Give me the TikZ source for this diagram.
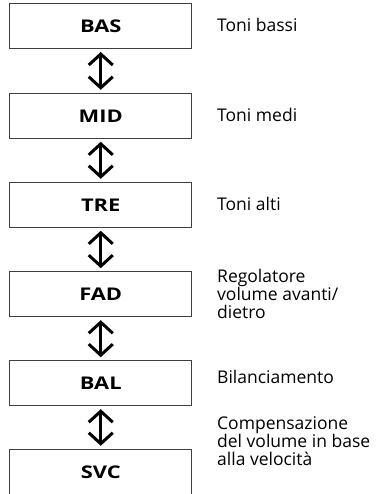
\documentclass[tikz,border=0pt]{standalone}
\usepackage{fontspec}
\setmainfont{Open Sans}
\newfontfamily\unitfont[FakeStretch=1.25]{Open Sans Bold}
\usetikzlibrary{arrows.meta}
\begin{document}
\begin{tikzpicture}[x=1pt, y=-1pt,
    unitbox/.style={draw=black!75, line width=1pt, minimum width=182pt, minimum height=45pt, inner sep=0pt, font=\unitfont\fontsize{17.5}{18}\selectfont},
    note/.style={anchor=base west, align=left, inner sep=0pt, font=\fontsize{17.5}{18}\selectfont},
    updown/.style={{Straight Barb[length=11pt,width=24pt]}-{Straight Barb[length=11pt,width=24pt]}, line width=3pt, shorten <=3pt, shorten >=3pt}]
    % Fix the page to the size of the sheet
    \useasboundingbox (0,0) rectangle (377,494);

    % Column of the boxes and of the texts
    \def\bx{100.75}
    \def\tx{217}

    % The six settings
    \node[unitbox] (bas) at (\bx,26) {BAS};
    \node[unitbox] (mid) at (\bx,115.8) {MID};
    \node[unitbox] (tre) at (\bx,204.8) {TRE};
    \node[unitbox] (fad) at (\bx,294.2) {FAD};
    \node[unitbox] (bal) at (\bx,383.2) {BAL};
    \node[unitbox] (svc) at (\bx,471.8) {SVC};

    % Arrows between the settings
    \draw[updown] (bas.south) -- (mid.north);
    \draw[updown] (mid.south) -- (tre.north);
    \draw[updown] (tre.south) -- (fad.north);
    \draw[updown] (fad.south) -- (bal.north);
    \draw[updown] (bal.south) -- (svc.north);

    % What each setting does (base = last line)
    \node[note] (basnote) at (\tx,32) {Toni bassi};
    \node[note] (midnote) at (\tx,121.5) {Toni medi};
    \node[note] (trenote) at (\tx,210.5) {Toni alti};
    \node[note] (fadnote) at (\tx,318) {Regolatore\\volume avanti/\\dietro};
    \node[note] (balnote) at (\tx,383) {Bilanciamento};
    \node[note] (svcnote) at (\tx,465) {Compensazione\\del volume in base\\alla velocità};
\end{tikzpicture}
\end{document}
